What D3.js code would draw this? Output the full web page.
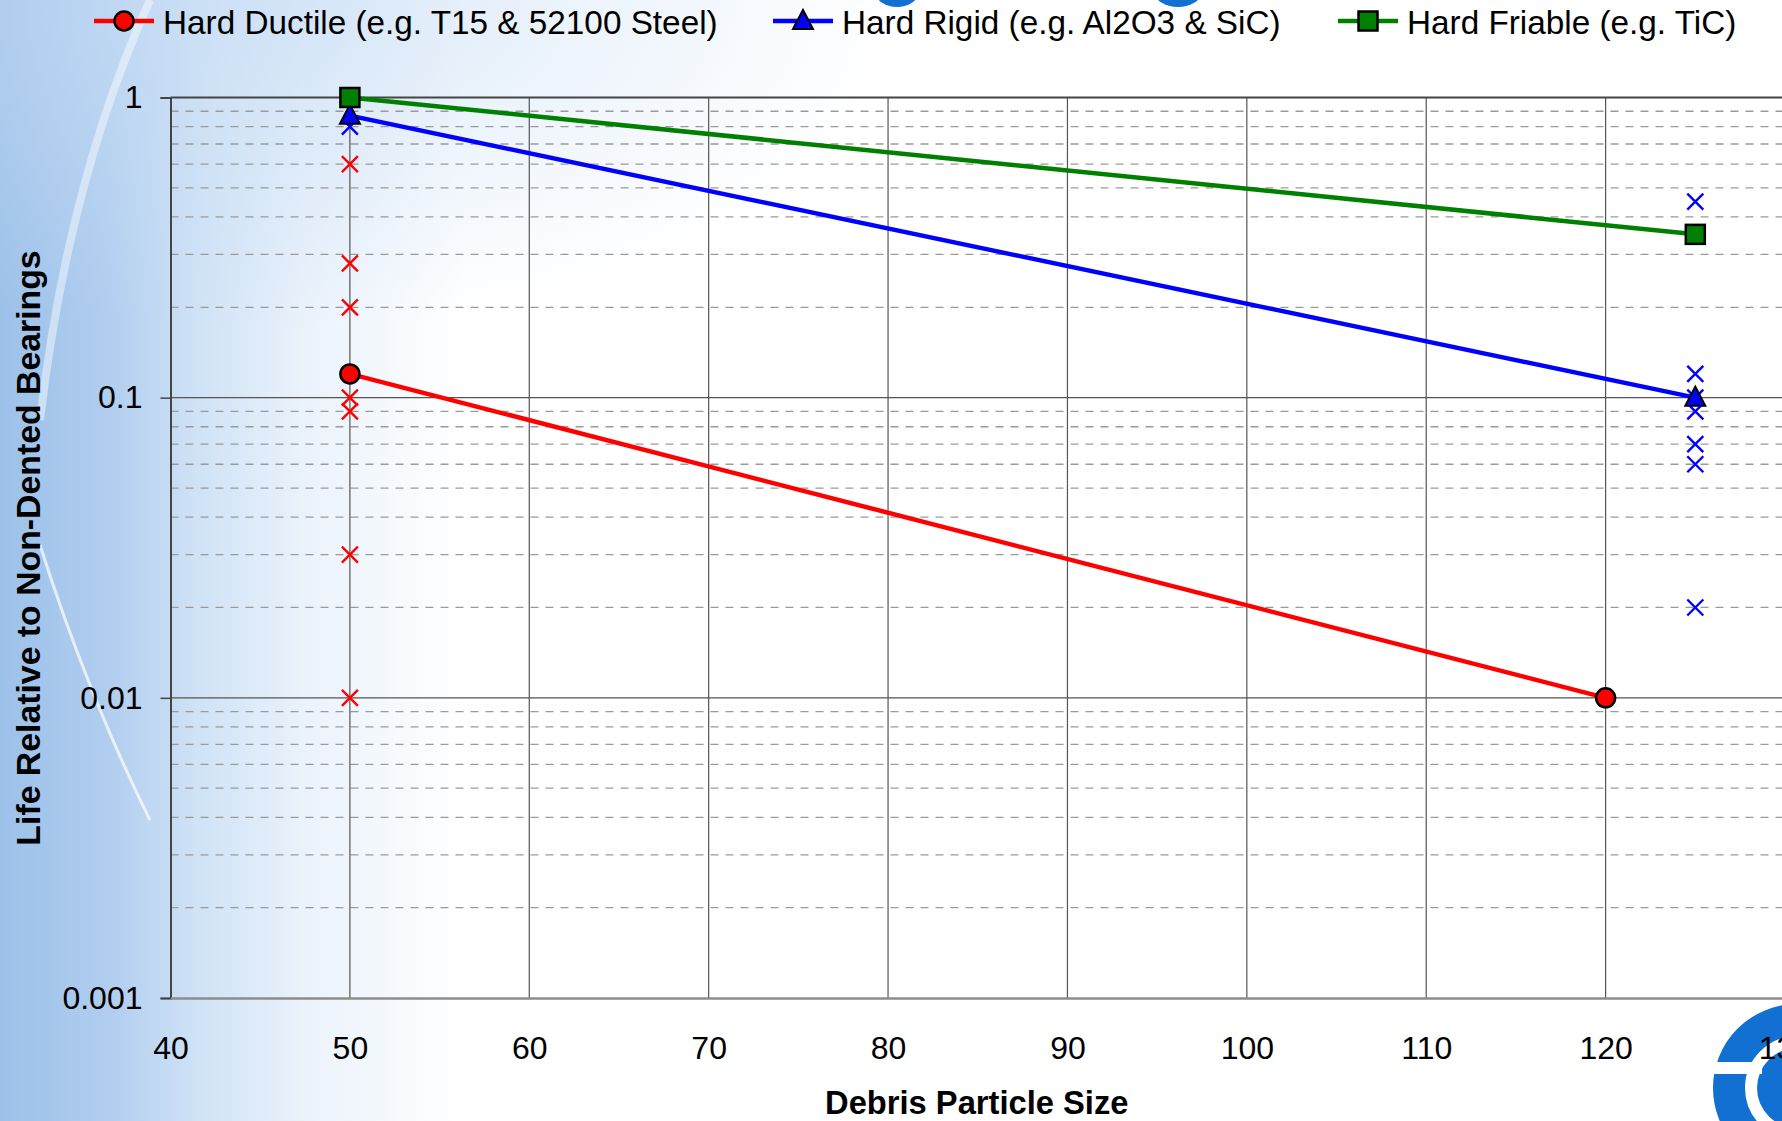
<!DOCTYPE html>
<html>
<head>
<meta charset="utf-8">
<script src="https://cdn.jsdelivr.net/npm/d3@7"></script>
<style>
  body { margin: 0; overflow: hidden; background: #fff; }
  svg { display: block; }
  text { font-family: "Liberation Sans", Arial, sans-serif; }
</style>
</head>
<body>
<div id="chart"></div>
<script>
// data
const xTicks = [40, 50, 60, 70, 80, 90, 100, 110, 120, 130];
const yTicks = [0.001, 0.01, 0.1, 1];
const seriesNames = ["Hard Ductile (e.g. T15 & 52100 Steel)", "Hard Rigid (e.g. Al2O3 & SiC)", "Hard Friable (e.g. TiC)"];
const seriesColors = ["#ff0000", "#0000ff", "#008000"];
const seriesShapes = ["circle", "triangle", "square"];

const ductileX = [50, 120];
const ductileY = [0.12, 0.01];
const rigidX = [50, 125];
const rigidY = [0.87, 0.1];
const friableX = [50, 125];
const friableY = [1, 0.35];

// individual test results (x markers)
const ductileTestX = [50, 50, 50, 50, 50, 50, 50];
const ductileTestY = [0.6, 0.28, 0.2, 0.1, 0.09, 0.03, 0.01];
const rigidTestX = [50, 125, 125, 125, 125, 125, 125, 125];
const rigidTestY = [0.8, 0.45, 0.12, 0.1, 0.09, 0.07, 0.06, 0.02];

const W = 1782, H = 1121;
const svg = d3.select("#chart").append("svg")
    .attr("width", W)
    .attr("height", H);

// slide background
const defs = svg.append("defs");
const bg = defs.append("linearGradient").attr("id", "bg")
    .attr("x1", "0%").attr("x2", "100%").attr("y1", "0%").attr("y2", "0%");
bg.append("stop").attr("offset", "0%").attr("stop-color", "#9cc1e9");
bg.append("stop").attr("offset", "6%").attr("stop-color", "#b0cdef");
bg.append("stop").attr("offset", "11%").attr("stop-color", "#cfe2f6");
bg.append("stop").attr("offset", "17%").attr("stop-color", "#eaf2fb");
bg.append("stop").attr("offset", "26%").attr("stop-color", "#ffffff");
svg.append("rect").attr("width", W).attr("height", H).attr("fill", "url(#bg)");

// faint blue tint in the upper part of the slide
const tint = defs.append("radialGradient").attr("id", "tint");
tint.append("stop").attr("offset", "0%").attr("stop-color", "#c9def5").attr("stop-opacity", 0.7);
tint.append("stop").attr("offset", "100%").attr("stop-color", "#c9def5").attr("stop-opacity", 0);
svg.append("ellipse").attr("cx", 250).attr("cy", 0).attr("rx", 650).attr("ry", 330)
    .attr("fill", "url(#tint)");

// light arcs of the slide
svg.append("path")
    .attr("d", "M150,0 C100,110 60,250 40,420")
    .attr("fill", "none").attr("stroke", "#ffffff").attr("stroke-opacity", 0.45).attr("stroke-width", 8);
svg.append("path")
    .attr("d", "M40,545 C70,640 110,740 150,820")
    .attr("fill", "none").attr("stroke", "#ffffff").attr("stroke-opacity", 0.7).attr("stroke-width", 3);

// logo pieces
svg.append("ellipse").attr("cx", 897).attr("cy", -9).attr("rx", 22).attr("ry", 16).attr("fill", "#1170d2");
svg.append("ellipse").attr("cx", 1178).attr("cy", -9).attr("rx", 24).attr("ry", 16).attr("fill", "#1170d2");
const logo = svg.append("g").attr("transform", "translate(1797,1088)");
logo.append("circle").attr("r", 68).attr("fill", "none").attr("stroke", "#1170d2").attr("stroke-width", 32);
logo.append("circle").attr("r", 40).attr("fill", "#1170d2");
logo.append("rect").attr("x", -95).attr("y", -26).attr("width", 60).attr("height", 12).attr("fill", "#ffffff");

// scales
const x = d3.scaleLinear().domain([40, 130]).range([170.5, 1785]);
const y = d3.scaleLog().domain([0.001, 1]).range([998, 97.5]);

const grid = svg.append("g");
// minor horizontal grid
const minor = [];
[0.001, 0.01, 0.1].forEach(d => { for (let m = 2; m <= 9; m++) minor.push(d * m); });
grid.selectAll(".minor").data(minor).enter().append("line")
    .attr("x1", x(40)).attr("x2", W)
    .attr("y1", d => y(d)).attr("y2", d => y(d))
    .attr("stroke", "#9a9a9a").attr("stroke-width", 1.3)
    .attr("stroke-dasharray", "8,7");
// major grid
grid.selectAll(".hmajor").data(yTicks.slice(1, 3)).enter().append("line")
    .attr("x1", x(40)).attr("x2", W)
    .attr("y1", d => y(d)).attr("y2", d => y(d))
    .attr("stroke", "#555").attr("stroke-width", 1.2);
grid.selectAll(".vmajor").data(xTicks.slice(1)).enter().append("line")
    .attr("x1", d => x(d)).attr("x2", d => x(d))
    .attr("y1", y(1)).attr("y2", y(0.001))
    .attr("stroke", "#555").attr("stroke-width", 1.2);
// top border
svg.append("line").attr("x1", x(40)).attr("x2", W).attr("y1", y(1)).attr("y2", y(1))
    .attr("stroke", "#444").attr("stroke-width", 2);

// axes
const yAxis = svg.append("g")
    .attr("transform", `translate(${x(40)},0)`)
    .call(d3.axisLeft(y).tickValues(yTicks).tickFormat(d => String(d)).tickSize(10).tickPadding(18));
yAxis.select(".domain").attr("stroke", "#444").attr("stroke-width", 2);
yAxis.selectAll(".tick line").attr("stroke", "#444").attr("stroke-width", 1.5);
yAxis.selectAll("text").attr("font-size", 32).attr("fill", "#000")
    .attr("font-family", "'Liberation Sans', Arial, sans-serif");

const xAxis = svg.append("g")
    .attr("transform", `translate(0,${y(0.001)})`)
    .call(d3.axisBottom(x).tickValues(xTicks).tickSize(0).tickPadding(38));
xAxis.select(".domain").attr("stroke", "#8c8c8c").attr("stroke-width", 2.5);
xAxis.selectAll("text").attr("font-size", 32).attr("fill", "#000")
    .attr("font-family", "'Liberation Sans', Arial, sans-serif");

// axis titles
svg.append("text")
    .attr("x", x(85) - 1).attr("y", 1114)
    .attr("text-anchor", "middle").attr("font-weight", "bold").attr("font-size", 32.7)
    .text("Debris Particle Size");
svg.append("text")
    .attr("transform", "translate(40,548) rotate(-90)")
    .attr("text-anchor", "middle").attr("font-weight", "bold").attr("font-size", 33.8)
    .text("Life Relative to Non-Dented Bearings");

// series lines
const lineData = [
    d3.zip(ductileX, ductileY),
    d3.zip(rigidX, rigidY),
    d3.zip(friableX, friableY)
];
const line = d3.line().x(d => x(d[0])).y(d => y(d[1]));
svg.selectAll(".series").data(lineData).enter().append("path")
    .attr("d", line)
    .attr("fill", "none")
    .attr("stroke", (d, i) => seriesColors[i])
    .attr("stroke-width", 4.5);

// x markers for individual tests
function cross(g, cx, cy, color) {
    const s = 8;
    g.append("path")
        .attr("d", `M${cx - s},${cy - s}L${cx + s},${cy + s}M${cx - s},${cy + s}L${cx + s},${cy - s}`)
        .attr("stroke", color).attr("stroke-width", 2.4).attr("fill", "none");
}
const crosses = svg.append("g");
d3.zip(ductileTestX, ductileTestY).forEach(d => cross(crosses, x(d[0]), y(d[1]), seriesColors[0]));
d3.zip(rigidTestX, rigidTestY).forEach(d => cross(crosses, x(d[0]), y(d[1]), seriesColors[1]));

// series markers
function marker(g, shape, cx, cy, color) {
    if (shape === "circle") {
        g.append("circle").attr("cx", cx).attr("cy", cy).attr("r", 9.5)
            .attr("fill", color).attr("stroke", "#000").attr("stroke-width", 2.5);
    } else if (shape === "square") {
        g.append("rect").attr("x", cx - 9.5).attr("y", cy - 9.5).attr("width", 19).attr("height", 19)
            .attr("fill", color).attr("stroke", "#000").attr("stroke-width", 2.5);
    } else {
        g.append("path").attr("d", `M${cx},${cy - 11}L${cx + 10},${cy + 8}L${cx - 10},${cy + 8}Z`)
            .attr("fill", color).attr("stroke", "#000").attr("stroke-width", 2).attr("stroke-linejoin", "miter");
    }
}
const marks = svg.append("g");
lineData.forEach((pts, i) => pts.forEach(d => marker(marks, seriesShapes[i], x(d[0]), y(d[1]), seriesColors[i])));

// legend
const legendX = [94, 773, 1338];
const legend = svg.append("g");
seriesNames.forEach((name, i) => {
    const lg = legend.append("g").attr("transform", `translate(${legendX[i]},0)`);
    lg.append("line").attr("x1", 0).attr("x2", 60).attr("y1", 21).attr("y2", 21)
        .attr("stroke", seriesColors[i]).attr("stroke-width", 4.5);
    marker(lg, seriesShapes[i], 30, 21, seriesColors[i]);
    lg.append("text").attr("x", 69).attr("y", 33.5).attr("font-size", 33.3).attr("fill", "#000").text(name);
});
</script>
</body>
</html>
